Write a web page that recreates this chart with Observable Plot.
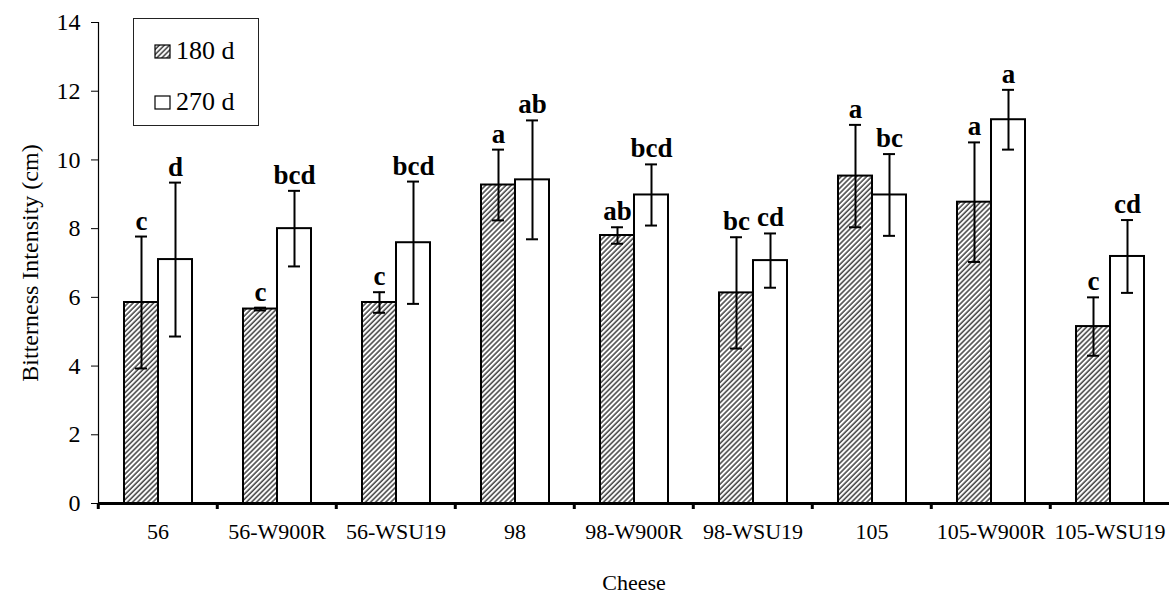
<!DOCTYPE html>
<html>
<head>
<meta charset="utf-8">
<script src="https://cdn.jsdelivr.net/npm/d3@7"></script>
<script src="https://cdn.jsdelivr.net/npm/@observablehq/plot@0.6"></script>
<style>
  body { margin: 0; background: #fff; font-family: "Liberation Serif", "Times New Roman", serif; }
  #wrap { position: relative; width: 1171px; height: 597px; }
  #legend { position: absolute; left: 133px; top: 18px; width: 126px; height: 108px; border: 1px solid #222;
            box-sizing: border-box; background: #fff; }
  .item { position: absolute; left: 20px; display: flex; align-items: center; font-size: 26px; color: #000; }
  .item svg { margin-right: 5px; }
</style>
</head>
<body>
<svg width="0" height="0" style="position:absolute">
  <defs>
    <pattern id="hatch" patternUnits="userSpaceOnUse" width="3.6" height="3.6" patternTransform="rotate(45)">
      <rect width="3.6" height="3.6" fill="#fff"/>
      <line x1="1" y1="0" x2="1" y2="3.6" stroke="#333" stroke-width="1.4"/>
    </pattern>
  </defs>
</svg>
<div id="wrap">
  <div id="chart"></div>
  <div id="legend"></div>
</div>
<script>
const cheeses = ["56", "56-W900R", "56-WSU19", "98", "98-W900R", "98-WSU19", "105", "105-W900R", "105-WSU19"];
const ages = ["180 d", "270 d"];
const mean180 = [5.85, 5.66, 5.85, 9.27, 7.80, 6.13, 9.53, 8.77, 5.15];
const err180  = [1.92, 0.04, 0.30, 1.03, 0.24, 1.62, 1.49, 1.74, 0.85];
const mean270 = [7.10, 8.00, 7.59, 9.42, 8.98, 7.07, 8.98, 11.17, 7.19];
const err270  = [2.24, 1.10, 1.78, 1.73, 0.89, 0.79, 1.19, 0.87, 1.06];
const letters180 = ["c", "c", "c", "a", "ab", "bc", "a", "a", "c"];
const letters270 = ["d", "bcd", "bcd", "ab", "bcd", "cd", "bc", "a", "cd"];
const yTicks = [0, 2, 4, 6, 8, 10, 12, 14];

const rows = [];
cheeses.forEach((c, i) => {
  rows.push({cheese: c, age: ages[0], mean: mean180[i], err: err180[i], letter: letters180[i]});
  rows.push({cheese: c, age: ages[1], mean: mean270[i], err: err270[i], letter: letters270[i]});
});
const fills = {"180 d": "url(#hatch)", "270 d": "#fff"};

const W = 1171, H = 597, ML = 96, MR = 0, MT = 22, MB = 94;
const step = (W - ML - MR) / cheeses.length;

const chart = Plot.plot({
  width: W, height: H,
  marginLeft: ML, marginRight: MR, marginTop: MT, marginBottom: MB,
  style: {fontFamily: "Liberation Serif, Times New Roman, serif", fontSize: "22px", color: "#000", background: "#fff", overflow: "visible"},
  fx: {domain: cheeses, padding: 0, label: null},
  x: {domain: ages, paddingInner: 0, paddingOuter: 0.73, axis: null},
  y: {domain: [0, 14], axis: null},
  marks: [
    Plot.frame({anchor: "left", facetAnchor: "left", stroke: "#000", strokeWidth: 1.2}),
    Plot.axisY({ticks: yTicks, tickSize: 7, tickPadding: 11, fontSize: 24,
      label: "Bitterness Intensity (cm)", labelAnchor: "center", labelArrow: "none", labelOffset: 78}),
    Plot.axisFx({anchor: "bottom", tickSize: 6, dx: -step / 2, tickFormat: () => "", strokeWidth: 3, label: null}),
    Plot.axisFx({anchor: "bottom", tickSize: 0, tickPadding: 20, fontSize: 22, label: "Cheese", labelAnchor: "center", labelOffset: 86}),
    Plot.barY(rows, {fx: "cheese", x: "age", y: "mean", fill: d => fills[d.age], stroke: "#000", strokeWidth: 2}),
    Plot.ruleX(rows, {fx: "cheese", x: "age", y1: d => d.mean - d.err, y2: d => d.mean + d.err, stroke: "#000", strokeWidth: 2}),
    Plot.tickY(rows, {fx: "cheese", x: "age", y: d => d.mean + d.err, insetLeft: 11, insetRight: 11, stroke: "#000", strokeWidth: 2}),
    Plot.tickY(rows, {fx: "cheese", x: "age", y: d => d.mean - d.err, insetLeft: 11, insetRight: 11, stroke: "#000", strokeWidth: 2}),
    Plot.text(rows, {fx: "cheese", x: "age", y: d => d.mean + d.err, text: "letter", dy: -7, lineAnchor: "bottom",
      fontWeight: "bold", fontSize: 27, fill: "#000"}),
    Plot.ruleY([0], {stroke: "#000", strokeWidth: 3})
  ]
});
document.getElementById("chart").appendChild(chart);

// legend
const legend = document.getElementById("legend");
ages.forEach((a, i) => {
  const div = document.createElement("div");
  div.className = "item";
  div.style.top = (i === 0 ? 17 : 68) + "px";
  div.innerHTML = `<svg width="17" height="15"><rect x="1" y="1" width="15" height="13" fill="${fills[a]}" stroke="#000" stroke-width="1.2"/></svg><span>${a}</span>`;
  legend.appendChild(div);
});
</script>
</body>
</html>
